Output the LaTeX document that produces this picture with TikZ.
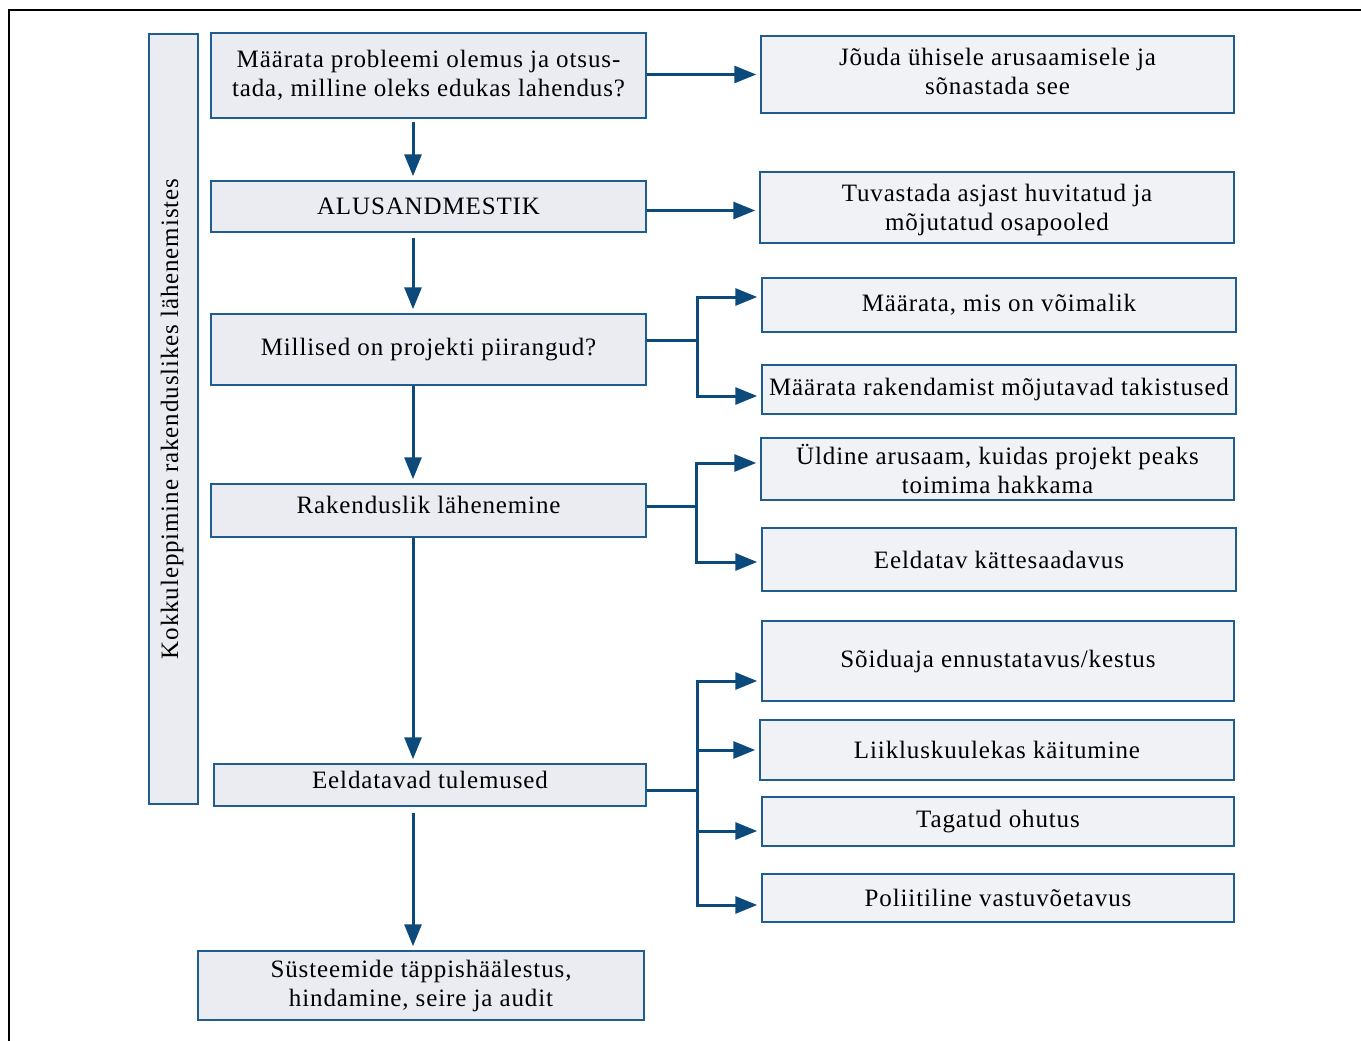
\documentclass[tikz,border=0pt]{standalone}
\usepackage{fontspec}
\setmainfont{Liberation Serif}[LetterSpace=3.5]
\usetikzlibrary{arrows.meta}
\definecolor{boxblue}{HTML}{1F5C8F}
\definecolor{arrblue}{HTML}{0D4A7C}
\definecolor{leftfill}{HTML}{EBECF1}
\definecolor{rightfill}{HTML}{F1F2F5}

\begin{document}
\begin{tikzpicture}[
  x=1pt, y=-1pt,
  lbox/.style={draw=boxblue, line width=1.5pt, fill=leftfill, align=center, inner sep=0pt, font=\fontsize{25}{29}\selectfont},
  rbox/.style={lbox, fill=rightfill},
  arr/.style={-{Triangle[length=22pt,width=17pt]}, line width=3pt, draw=arrblue, shorten >=4pt},
  stem/.style={line width=3pt, draw=arrblue}
]
  \useasboundingbox (0,0) rectangle (1361,1041);
  \draw[line width=1.5pt] (9,1041) -- (9,10) -- (1361,10);

  \node[lbox, minimum width=770pt, minimum height=49pt, rotate=90, text depth=8pt] (side) at (173.5,419) {Kokkuleppimine rakenduslikes lähenemistes};

  \node[lbox, minimum width=435pt, minimum height=85pt] (m1) at (428.5,75.5) {Määrata probleemi olemus ja otsus-\\tada, milline oleks edukas lahendus?};
  \node[lbox, minimum width=435pt, minimum height=51pt] (m2) at (428.5,206.5) {ALUSANDMESTIK};
  \node[lbox, minimum width=435pt, minimum height=71pt] (m3) at (428.5,349.5) {Millised on projekti piirangud?};
  \node[lbox, minimum width=435pt, minimum height=53pt, text depth=11pt] (m4) at (428.5,510.5) {Rakenduslik lähenemine};
  \node[lbox, minimum width=432pt, minimum height=42pt, text depth=10pt] (m5) at (430,785) {Eeldatavad tulemused};
  \node[lbox, minimum width=446pt, minimum height=69pt] (m6) at (421,985.5) {Süsteemide täppishäälestus,\\hindamine, seire ja audit};

  \node[rbox, minimum width=473pt, minimum height=77pt, text depth=6pt] (r1) at (997.5,74.5) {Jõuda ühisele arusaamisele ja\\sõnastada see};
  \node[rbox, minimum width=474pt, minimum height=71pt, text depth=0pt] (r2) at (997,207.5) {Tuvastada asjast huvitatud ja\\mõjutatud osapooled};
  \node[rbox, minimum width=474pt, minimum height=54pt] (r3) at (999,305) {Määrata, mis on võimalik};
  \node[rbox, minimum width=474pt, minimum height=49pt] (r4) at (999,389.5) {Määrata rakendamist mõjutavad takistused};
  \node[rbox, minimum width=473pt, minimum height=62pt] (r5) at (997.5,469) {Üldine arusaam, kuidas projekt peaks\\toimima hakkama};
  \node[rbox, minimum width=474pt, minimum height=63pt] (r6) at (999,559.5) {Eeldatav kättesaadavus};
  \node[rbox, minimum width=472pt, minimum height=80pt] (r7) at (998,661) {Sõiduaja ennustatavus/kestus};
  \node[rbox, minimum width=474pt, minimum height=60pt] (r8) at (997,750) {Liikluskuulekas käitumine};
  \node[rbox, minimum width=472pt, minimum height=49pt] (r9) at (998,821.5) {Tagatud ohutus};
  \node[rbox, minimum width=472pt, minimum height=48pt] (r10) at (998,898) {Poliitiline vastuvõetavus};

  \coordinate (vx) at (413,0);
  \coordinate (b3) at (697,340);
  \coordinate (b4) at (696,506);
  \coordinate (b5) at (697,790);

  \draw[arr, shorten <=3pt] (m1.south -| vx) -- (m2.north -| vx);
  \draw[arr, shorten <=5pt] (m2.south -| vx) -- (m3.north -| vx);
  \draw[arr] (m3.south -| vx) -- (m4.north -| vx);
  \draw[arr] (m4.south -| vx) -- (m5.north -| vx);
  \draw[arr, shorten <=6pt] (m5.south -| vx) -- (m6.north -| vx);

  \draw[arr] (m1.east |- r1) -- (r1.west);
  \draw[arr] ([yshift=-4pt]m2.east) -- ([yshift=-4pt]m2.east -| r2.west);

  \draw[stem] (m3.east |- b3) -- (b3);
  \draw[arr] (b3) |- ([yshift=8pt]r3.west);
  \draw[arr] (b3) |- ([yshift=-6.5pt]r4.west);

  \draw[stem] (m4.east |- b4) -- (b4);
  \draw[arr] (b4) |- ([yshift=6pt]r5.west);
  \draw[arr] (b4) |- ([yshift=-2.5pt]r6.west);

  \draw[stem] (m5.east |- b5) -- (b5);
  \draw[arr] (b5) |- ([yshift=-20pt]r7.west);
  \draw[arr] (b5) |- (r8.west);
  \draw[arr] (b5) |- ([yshift=-9.5pt]r9.west);
  \draw[arr] (b5) |- ([yshift=-7pt]r10.west);
\end{tikzpicture}
\end{document}
